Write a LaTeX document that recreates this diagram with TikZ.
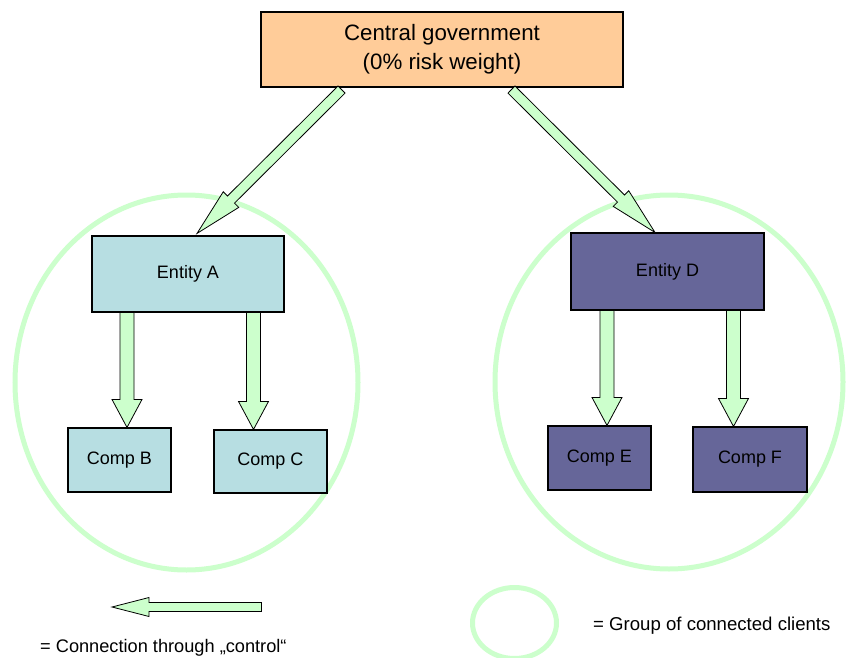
\documentclass[tikz,border=0pt]{standalone}
\usepackage{fontspec}
\setmainfont{Liberation Sans}
\usetikzlibrary{calc}
\definecolor{peach}{RGB}{255,204,153}
\definecolor{lteal}{RGB}{183,222,226}
\definecolor{slate}{RGB}{102,102,153}
\definecolor{mint}{RGB}{204,255,204}
\tikzset{
  box/.style={draw=black, line width=1.1pt, inner sep=0pt, anchor=center, font=\fontsize{18}{22}\selectfont},
  grp/.style={draw=mint, line width=5pt},
  barrowstyle/.style={fill=mint, draw=black, line width=0.8pt, line join=miter},
  legendtext/.style={anchor=west, inner sep=0pt, font=\fontsize{18.2}{22}\selectfont},
}
% #1 tail, #2 tip, #3 shaft half width, #4 head half width, #5 head length
\newcommand\blockarrow[5]{%
  \filldraw[barrowstyle] let \p1=(#1), \p2=(#2),
    \n1={atan2((\y2)-(\y1),(\x2)-(\x1))},
    \n2={veclen((\x2)-(\x1),(\y2)-(\y1))-#5} in
    ($(\p1)+(\n1+90:#3)$) -- ($(\p1)+(\n1:\n2)+(\n1+90:#3)$) --
    ($(\p1)+(\n1:\n2)+(\n1+90:#4)$) -- (\p2) --
    ($(\p1)+(\n1:\n2)+(\n1-90:#4)$) -- ($(\p1)+(\n1:\n2)+(\n1-90:#3)$) --
    ($(\p1)+(\n1-90:#3)$) -- cycle;}
\begin{document}
\begin{tikzpicture}[x=1pt,y=-1pt]
\useasboundingbox (0,0) rectangle (846,658);
\fill[white] (0,0) rectangle (846,658);

% groups
\draw[grp] (186.5,382.5) ellipse [x radius=171.5pt, y radius=187.5pt];
\draw[grp] (669,382) ellipse [x radius=174pt, y radius=187pt];

% boxes
\node[box, fill=peach, minimum width=362pt, minimum height=75pt, align=center,
      font=\fontsize{22.3}{29}\selectfont] (gov) at (442,49.5) {Central government\\(0\% risk weight)};
\node[box, fill=lteal, minimum width=192pt, minimum height=76pt] (entA) at (188,274) {Entity A};
\node[box, fill=lteal, minimum width=103pt, minimum height=64pt] (comB) at (119.5,460) {Comp B};
\node[box, fill=lteal, minimum width=113pt, minimum height=63pt] (comC) at (270.5,461.5) {Comp C};
\node[box, fill=slate, minimum width=193pt, minimum height=77pt] (entD) at (667.5,271.5) {Entity D};
\node[box, fill=slate, minimum width=103pt, minimum height=64pt] (comE) at (599.5,458) {Comp E};
\node[box, fill=slate, minimum width=114pt, minimum height=65pt] (comF) at (750,459.5) {Comp F};

% connectors
\blockarrow{$(gov.south -| 341.5,0)+(0,2)$}{$(entA.north -| 197,0)+(0,-2)$}{5pt}{11pt}{48pt}
\blockarrow{$(gov.south -| 511.5,0)+(0,2)$}{$(entD.north -| 655,0)$}{5pt}{11pt}{48pt}
\blockarrow{entA.south -| 127,0}{comB.north -| 127,0}{7pt}{15pt}{28pt}
\blockarrow{entA.south -| 253.5,0}{comC.north -| 253.5,0}{7pt}{15pt}{28pt}
\blockarrow{entD.south -| 607,0}{comE.north -| 607,0}{7pt}{15pt}{28pt}
\blockarrow{entD.south -| 733.5,0}{comF.north -| 733.5,0}{7pt}{15pt}{28pt}

% legend
\coordinate (lgtail) at (261.5,607);
\coordinate (lgtip) at (112,607);
\blockarrow{lgtail}{lgtip}{4.5pt}{9.5pt}{37pt}
\draw[grp] (514.5,623) ellipse [x radius=42pt, y radius=35.5pt];
\node[legendtext, font=\fontsize{18.6}{22}\selectfont] (lg1) at (593,626) {= Group of connected clients};
\node[legendtext] (lg2) at (40,648) {= Connection through „control“};
\end{tikzpicture}
\end{document}
